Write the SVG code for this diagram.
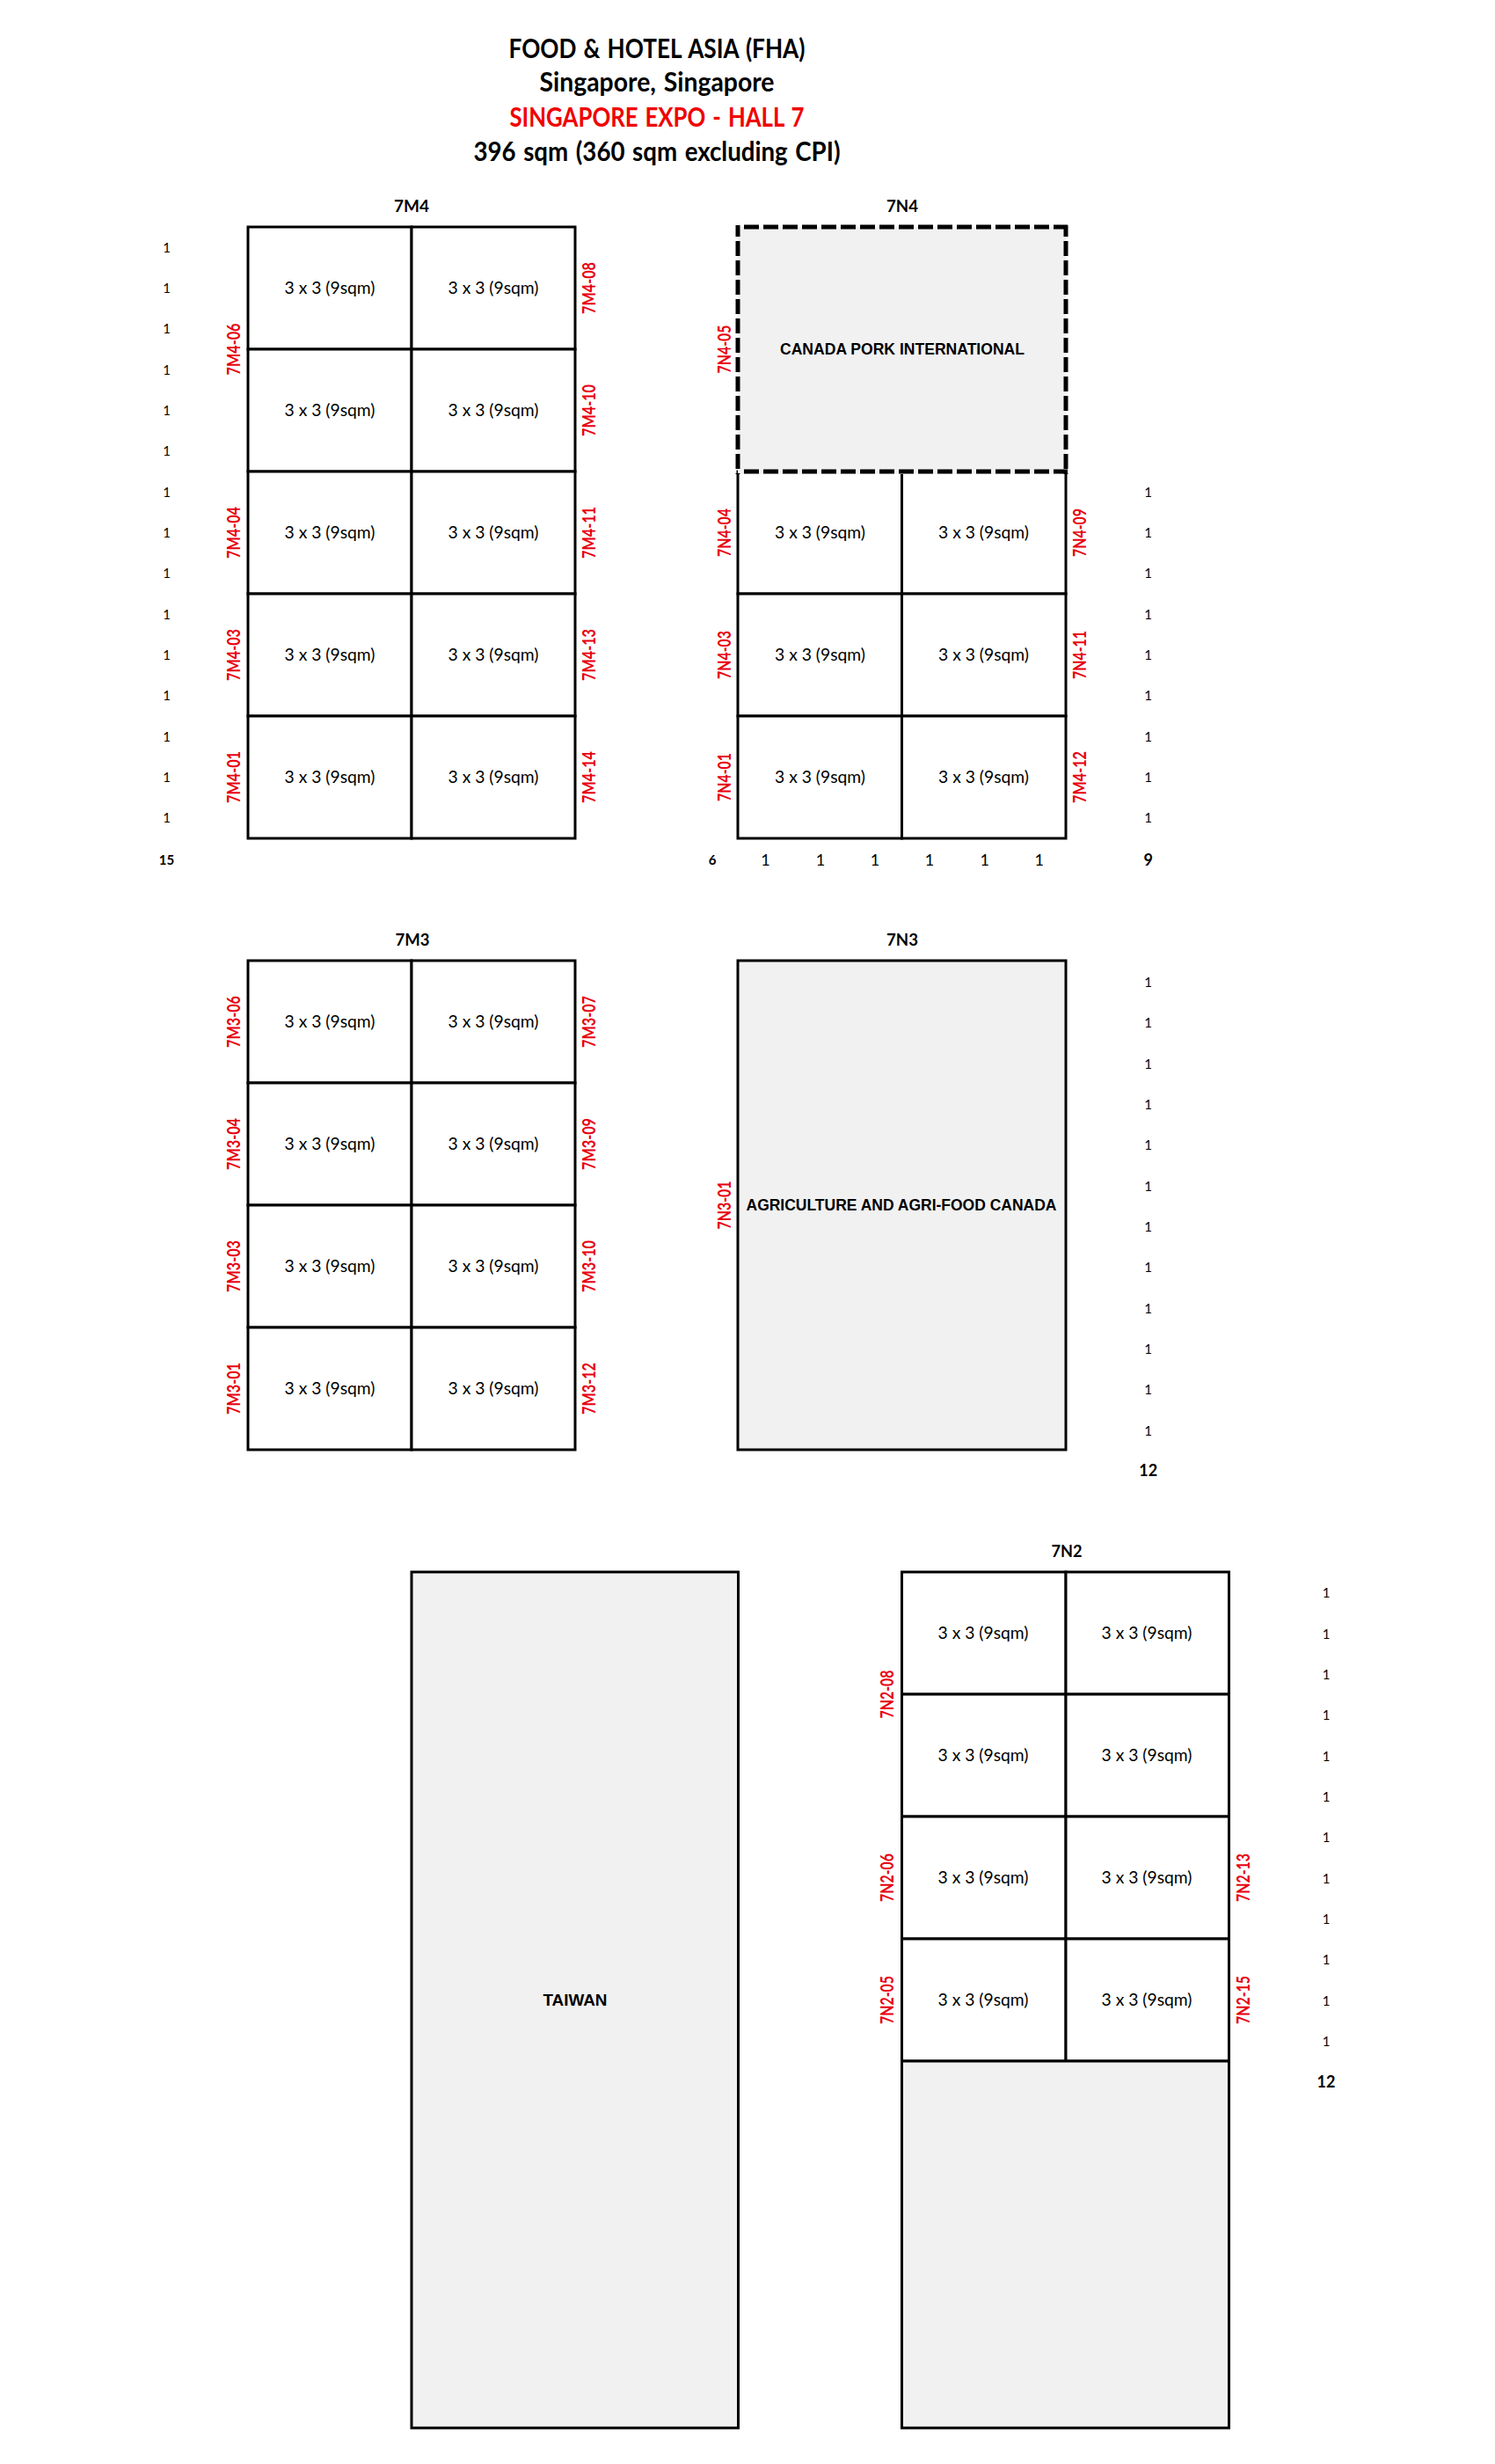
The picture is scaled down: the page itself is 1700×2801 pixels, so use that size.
<svg xmlns="http://www.w3.org/2000/svg" width="1700" height="2801" viewBox="0 0 1700 2801">
<style>
text{font-family:"Lato","Open Sans","Liberation Sans",sans-serif;text-anchor:middle;fill:#000}
.t{font-size:30px;font-weight:700;word-spacing:2px}
.r{fill:#f00000}
.h{font-size:19px;font-weight:700}
.c{font-size:20px;font-weight:400}
.s{font-size:20px;font-weight:700;fill:#e8000f}
.n{font-size:15px}
.b{font-size:18px;font-weight:700}
.a{font-family:"Liberation Sans",Arial,sans-serif;font-size:18px;font-weight:700}
rect{stroke:#000;stroke-width:3;fill:#fff}
rect.g{fill:#f1f1f1}
.d{fill:none;stroke:#000;stroke-width:5;stroke-dasharray:17 5}
</style>
<rect width="1700" height="2801" style="fill:#fff;stroke:none"/>
<g id="title">
<text class="t" x="747" y="66" textLength="337" lengthAdjust="spacingAndGlyphs">FOOD &amp; HOTEL ASIA (FHA)</text>
<text class="t" x="747" y="104" textLength="267" lengthAdjust="spacingAndGlyphs">Singapore, Singapore</text>
<text class="t r" x="747" y="144" textLength="335" lengthAdjust="spacingAndGlyphs">SINGAPORE EXPO - HALL 7</text>
<text class="t" x="747" y="183" textLength="417" lengthAdjust="spacingAndGlyphs">396 sqm (360 sqm excluding CPI)</text>
</g>

<g id="block-7M4">
<text class="h" x="468" y="241" textLength="40" lengthAdjust="spacingAndGlyphs">7M4</text>
<rect x="282" y="258" width="186" height="139"/><rect x="468" y="258" width="186" height="139"/>
<rect x="282" y="397" width="186" height="139"/><rect x="468" y="397" width="186" height="139"/>
<rect x="282" y="536" width="186" height="139"/><rect x="468" y="536" width="186" height="139"/>
<rect x="282" y="675" width="186" height="139"/><rect x="468" y="675" width="186" height="139"/>
<rect x="282" y="814" width="186" height="139"/><rect x="468" y="814" width="186" height="139"/>
<text class="c" x="375" y="334" textLength="103" lengthAdjust="spacingAndGlyphs">3 x 3 (9sqm)</text><text class="c" x="561" y="334" textLength="103" lengthAdjust="spacingAndGlyphs">3 x 3 (9sqm)</text>
<text class="c" x="375" y="473" textLength="103" lengthAdjust="spacingAndGlyphs">3 x 3 (9sqm)</text><text class="c" x="561" y="473" textLength="103" lengthAdjust="spacingAndGlyphs">3 x 3 (9sqm)</text>
<text class="c" x="375" y="612" textLength="103" lengthAdjust="spacingAndGlyphs">3 x 3 (9sqm)</text><text class="c" x="561" y="612" textLength="103" lengthAdjust="spacingAndGlyphs">3 x 3 (9sqm)</text>
<text class="c" x="375" y="751" textLength="103" lengthAdjust="spacingAndGlyphs">3 x 3 (9sqm)</text><text class="c" x="561" y="751" textLength="103" lengthAdjust="spacingAndGlyphs">3 x 3 (9sqm)</text>
<text class="c" x="375" y="890" textLength="103" lengthAdjust="spacingAndGlyphs">3 x 3 (9sqm)</text><text class="c" x="561" y="890" textLength="103" lengthAdjust="spacingAndGlyphs">3 x 3 (9sqm)</text>
<text class="s" transform="translate(273 397) rotate(-90)" textLength="59" lengthAdjust="spacingAndGlyphs">7M4-06</text>
<text class="s" transform="translate(273 605.5) rotate(-90)" textLength="59" lengthAdjust="spacingAndGlyphs">7M4-04</text>
<text class="s" transform="translate(273 744.5) rotate(-90)" textLength="59" lengthAdjust="spacingAndGlyphs">7M4-03</text>
<text class="s" transform="translate(273 883.5) rotate(-90)" textLength="59" lengthAdjust="spacingAndGlyphs">7M4-01</text>
<text class="s" transform="translate(677 327.5) rotate(-90)" textLength="59" lengthAdjust="spacingAndGlyphs">7M4-08</text>
<text class="s" transform="translate(677 466.5) rotate(-90)" textLength="59" lengthAdjust="spacingAndGlyphs">7M4-10</text>
<text class="s" transform="translate(677 605.5) rotate(-90)" textLength="59" lengthAdjust="spacingAndGlyphs">7M4-11</text>
<text class="s" transform="translate(677 744.5) rotate(-90)" textLength="59" lengthAdjust="spacingAndGlyphs">7M4-13</text>
<text class="s" transform="translate(677 883.5) rotate(-90)" textLength="59" lengthAdjust="spacingAndGlyphs">7M4-14</text>
<text class="n" x="189.5" y="286.7">1</text><text class="n" x="189.5" y="333">1</text><text class="n" x="189.5" y="379.4">1</text><text class="n" x="189.5" y="425.7">1</text><text class="n" x="189.5" y="472">1</text><text class="n" x="189.5" y="518.4">1</text><text class="n" x="189.5" y="564.7">1</text><text class="n" x="189.5" y="611">1</text><text class="n" x="189.5" y="657.3">1</text><text class="n" x="189.5" y="703.7">1</text><text class="n" x="189.5" y="750">1</text><text class="n" x="189.5" y="796.3">1</text><text class="n" x="189.5" y="842.7">1</text><text class="n" x="189.5" y="889">1</text><text class="n" x="189.5" y="935.3">1</text>
<text class="n" style="font-weight:700" x="189.5" y="983">15</text>
</g>

<g id="block-7N4">
<text class="h" x="1026" y="241" textLength="36" lengthAdjust="spacingAndGlyphs">7N4</text>
<rect x="839" y="536" width="186.5" height="139"/><rect x="1025.5" y="536" width="186.5" height="139"/>
<rect x="839" y="675" width="186.5" height="139"/><rect x="1025.5" y="675" width="186.5" height="139"/>
<rect x="839" y="814" width="186.5" height="139"/><rect x="1025.5" y="814" width="186.5" height="139"/>
<rect class="g" x="839" y="258" width="373" height="281" style="stroke:none"/>
<path class="d" d="M846 258H1214"/>
<path class="d" d="M846 536H1214"/>
<path class="d" d="M839 256V539" stroke-dashoffset="4"/>
<path class="d" d="M1212 256V539" stroke-dashoffset="4"/>
<text class="a" x="1026" y="402.7" textLength="278" lengthAdjust="spacingAndGlyphs">CANADA PORK INTERNATIONAL</text>
<text class="c" x="932.5" y="612" textLength="103" lengthAdjust="spacingAndGlyphs">3 x 3 (9sqm)</text><text class="c" x="1118.5" y="612" textLength="103" lengthAdjust="spacingAndGlyphs">3 x 3 (9sqm)</text>
<text class="c" x="932.5" y="751" textLength="103" lengthAdjust="spacingAndGlyphs">3 x 3 (9sqm)</text><text class="c" x="1118.5" y="751" textLength="103" lengthAdjust="spacingAndGlyphs">3 x 3 (9sqm)</text>
<text class="c" x="932.5" y="890" textLength="103" lengthAdjust="spacingAndGlyphs">3 x 3 (9sqm)</text><text class="c" x="1118.5" y="890" textLength="103" lengthAdjust="spacingAndGlyphs">3 x 3 (9sqm)</text>
<text class="s" transform="translate(830.5 397) rotate(-90)" textLength="55" lengthAdjust="spacingAndGlyphs">7N4-05</text>
<text class="s" transform="translate(830.5 605.5) rotate(-90)" textLength="55" lengthAdjust="spacingAndGlyphs">7N4-04</text>
<text class="s" transform="translate(830.5 744.5) rotate(-90)" textLength="55" lengthAdjust="spacingAndGlyphs">7N4-03</text>
<text class="s" transform="translate(830.5 883.5) rotate(-90)" textLength="55" lengthAdjust="spacingAndGlyphs">7N4-01</text>
<text class="s" transform="translate(1235 605.5) rotate(-90)" textLength="55" lengthAdjust="spacingAndGlyphs">7N4-09</text>
<text class="s" transform="translate(1235 744.5) rotate(-90)" textLength="55" lengthAdjust="spacingAndGlyphs">7N4-11</text>
<text class="s" transform="translate(1235 883.5) rotate(-90)" textLength="59" lengthAdjust="spacingAndGlyphs">7M4-12</text>
<text class="n" x="1305.7" y="564.7">1</text><text class="n" x="1305.7" y="611">1</text><text class="n" x="1305.7" y="657.3">1</text><text class="n" x="1305.7" y="703.7">1</text><text class="n" x="1305.7" y="750">1</text><text class="n" x="1305.7" y="796.3">1</text><text class="n" x="1305.7" y="842.7">1</text><text class="n" x="1305.7" y="889">1</text><text class="n" x="1305.7" y="935.3">1</text>
<text class="b" x="1305.7" y="984">9</text>
<text class="n" style="font-weight:700" x="810" y="983">6</text>
<text class="b" style="font-weight:400" x="870.5" y="984">1</text><text class="b" style="font-weight:400" x="933" y="984">1</text><text class="b" style="font-weight:400" x="995" y="984">1</text><text class="b" style="font-weight:400" x="1057" y="984">1</text><text class="b" style="font-weight:400" x="1119.7" y="984">1</text><text class="b" style="font-weight:400" x="1181.7" y="984">1</text>
</g>

<g id="block-7M3">
<text class="h" x="469" y="1075" textLength="39" lengthAdjust="spacingAndGlyphs">7M3</text>
<rect x="282" y="1092" width="186" height="139"/><rect x="468" y="1092" width="186" height="139"/>
<rect x="282" y="1231" width="186" height="139"/><rect x="468" y="1231" width="186" height="139"/>
<rect x="282" y="1370" width="186" height="139"/><rect x="468" y="1370" width="186" height="139"/>
<rect x="282" y="1509" width="186" height="139"/><rect x="468" y="1509" width="186" height="139"/>
<text class="c" x="375" y="1168" textLength="103" lengthAdjust="spacingAndGlyphs">3 x 3 (9sqm)</text><text class="c" x="561" y="1168" textLength="103" lengthAdjust="spacingAndGlyphs">3 x 3 (9sqm)</text>
<text class="c" x="375" y="1307" textLength="103" lengthAdjust="spacingAndGlyphs">3 x 3 (9sqm)</text><text class="c" x="561" y="1307" textLength="103" lengthAdjust="spacingAndGlyphs">3 x 3 (9sqm)</text>
<text class="c" x="375" y="1446" textLength="103" lengthAdjust="spacingAndGlyphs">3 x 3 (9sqm)</text><text class="c" x="561" y="1446" textLength="103" lengthAdjust="spacingAndGlyphs">3 x 3 (9sqm)</text>
<text class="c" x="375" y="1585" textLength="103" lengthAdjust="spacingAndGlyphs">3 x 3 (9sqm)</text><text class="c" x="561" y="1585" textLength="103" lengthAdjust="spacingAndGlyphs">3 x 3 (9sqm)</text>
<text class="s" transform="translate(273 1161.5) rotate(-90)" textLength="59" lengthAdjust="spacingAndGlyphs">7M3-06</text>
<text class="s" transform="translate(273 1300.5) rotate(-90)" textLength="59" lengthAdjust="spacingAndGlyphs">7M3-04</text>
<text class="s" transform="translate(273 1439.5) rotate(-90)" textLength="59" lengthAdjust="spacingAndGlyphs">7M3-03</text>
<text class="s" transform="translate(273 1578.5) rotate(-90)" textLength="59" lengthAdjust="spacingAndGlyphs">7M3-01</text>
<text class="s" transform="translate(677 1161.5) rotate(-90)" textLength="59" lengthAdjust="spacingAndGlyphs">7M3-07</text>
<text class="s" transform="translate(677 1300.5) rotate(-90)" textLength="59" lengthAdjust="spacingAndGlyphs">7M3-09</text>
<text class="s" transform="translate(677 1439.5) rotate(-90)" textLength="59" lengthAdjust="spacingAndGlyphs">7M3-10</text>
<text class="s" transform="translate(677 1578.5) rotate(-90)" textLength="59" lengthAdjust="spacingAndGlyphs">7M3-12</text>
</g>

<g id="block-7N3">
<text class="h" x="1026" y="1075" textLength="36" lengthAdjust="spacingAndGlyphs">7N3</text>
<rect class="g" x="839" y="1092" width="373" height="556"/>
<text class="a" x="1025" y="1376" textLength="353" lengthAdjust="spacingAndGlyphs">AGRICULTURE AND AGRI-FOOD CANADA</text>
<text class="s" transform="translate(830.5 1370) rotate(-90)" textLength="55" lengthAdjust="spacingAndGlyphs">7N3-01</text>
<text class="n" x="1305.7" y="1122">1</text><text class="n" x="1305.7" y="1168.3">1</text><text class="n" x="1305.7" y="1214.7">1</text><text class="n" x="1305.7" y="1261">1</text><text class="n" x="1305.7" y="1307.3">1</text><text class="n" x="1305.7" y="1353.7">1</text><text class="n" x="1305.7" y="1400">1</text><text class="n" x="1305.7" y="1446.3">1</text><text class="n" x="1305.7" y="1492.6">1</text><text class="n" x="1305.7" y="1539">1</text><text class="n" x="1305.7" y="1585.3">1</text><text class="n" x="1305.7" y="1631.6">1</text>
<text class="b" x="1305.7" y="1678">12</text>
</g>

<g id="block-taiwan">
<rect class="g" x="468" y="1787" width="371.5" height="973"/>
<text class="a" x="654" y="2280" textLength="73" lengthAdjust="spacingAndGlyphs">TAIWAN</text>
</g>

<g id="block-7N2">
<text class="h" x="1213" y="1770" textLength="35" lengthAdjust="spacingAndGlyphs">7N2</text>
<rect x="1025.5" y="1787" width="186.5" height="139"/><rect x="1212" y="1787" width="185.5" height="139"/>
<rect x="1025.5" y="1926" width="186.5" height="139"/><rect x="1212" y="1926" width="185.5" height="139"/>
<rect x="1025.5" y="2065" width="186.5" height="139"/><rect x="1212" y="2065" width="185.5" height="139"/>
<rect x="1025.5" y="2204" width="186.5" height="139"/><rect x="1212" y="2204" width="185.5" height="139"/>
<rect class="g" x="1025.5" y="2343" width="372" height="417"/>
<text class="c" x="1118" y="1863" textLength="103" lengthAdjust="spacingAndGlyphs">3 x 3 (9sqm)</text><text class="c" x="1304" y="1863" textLength="103" lengthAdjust="spacingAndGlyphs">3 x 3 (9sqm)</text>
<text class="c" x="1118" y="2002" textLength="103" lengthAdjust="spacingAndGlyphs">3 x 3 (9sqm)</text><text class="c" x="1304" y="2002" textLength="103" lengthAdjust="spacingAndGlyphs">3 x 3 (9sqm)</text>
<text class="c" x="1118" y="2141" textLength="103" lengthAdjust="spacingAndGlyphs">3 x 3 (9sqm)</text><text class="c" x="1304" y="2141" textLength="103" lengthAdjust="spacingAndGlyphs">3 x 3 (9sqm)</text>
<text class="c" x="1118" y="2280" textLength="103" lengthAdjust="spacingAndGlyphs">3 x 3 (9sqm)</text><text class="c" x="1304" y="2280" textLength="103" lengthAdjust="spacingAndGlyphs">3 x 3 (9sqm)</text>
<text class="s" transform="translate(1016 1926) rotate(-90)" textLength="55" lengthAdjust="spacingAndGlyphs">7N2-08</text>
<text class="s" transform="translate(1016 2134.5) rotate(-90)" textLength="55" lengthAdjust="spacingAndGlyphs">7N2-06</text>
<text class="s" transform="translate(1016 2273.5) rotate(-90)" textLength="55" lengthAdjust="spacingAndGlyphs">7N2-05</text>
<text class="s" transform="translate(1421 2134.5) rotate(-90)" textLength="55" lengthAdjust="spacingAndGlyphs">7N2-13</text>
<text class="s" transform="translate(1421 2273.5) rotate(-90)" textLength="55" lengthAdjust="spacingAndGlyphs">7N2-15</text>
<text class="n" x="1508" y="1816.4">1</text><text class="n" x="1508" y="1862.7">1</text><text class="n" x="1508" y="1909.1">1</text><text class="n" x="1508" y="1955.4">1</text><text class="n" x="1508" y="2001.7">1</text><text class="n" x="1508" y="2048.1">1</text><text class="n" x="1508" y="2094.4">1</text><text class="n" x="1508" y="2140.7">1</text><text class="n" x="1508" y="2187">1</text><text class="n" x="1508" y="2233.4">1</text><text class="n" x="1508" y="2279.7">1</text><text class="n" x="1508" y="2326">1</text>
<text class="b" x="1508" y="2373">12</text>
</g>
</svg>
